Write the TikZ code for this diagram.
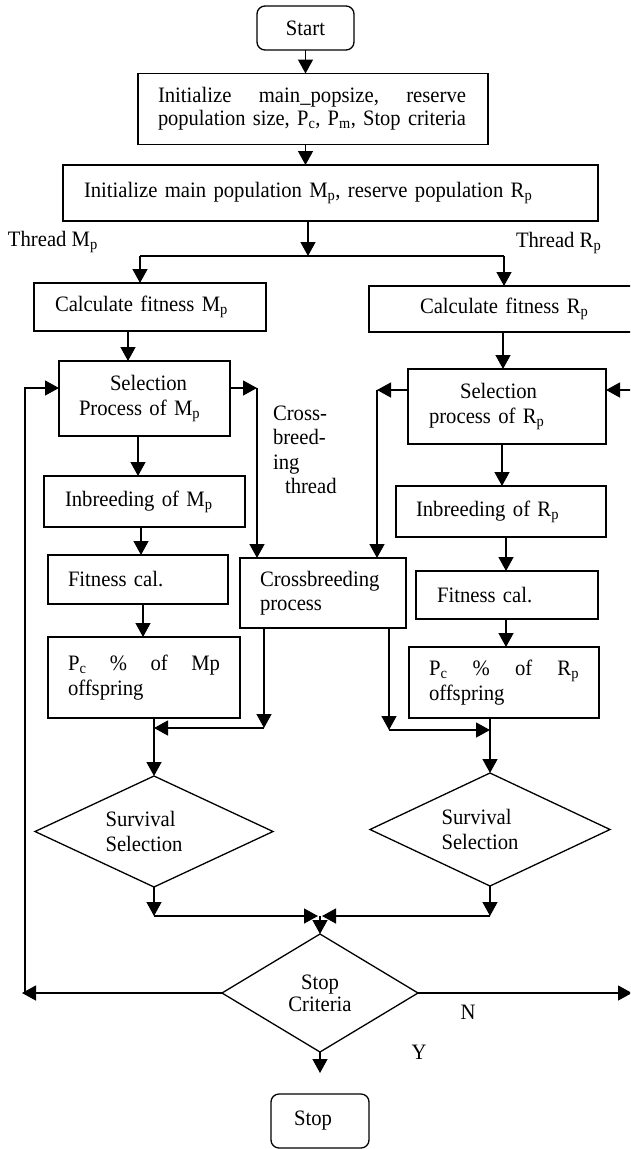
\documentclass[tikz,border=0pt]{standalone}
\usepackage{graphicx}
\usepackage{fontspec}
\setmainfont[FakeStretch=0.94]{Liberation Serif}
\usetikzlibrary{arrows.meta,shapes.geometric}
\newcommand{\subs}[1]{\textsubscript{#1}}
\begin{document}
\begin{tikzpicture}[x=1pt,y=-1pt,
  font=\fontsize{22}{24.5}\selectfont,
  every node/.style={outer sep=0pt},
  box/.style={draw, line width=1.3pt, rectangle, inner ysep=0pt, align=left},
  rbox/.style={box, rounded corners=8pt, align=center},
  diam/.style={draw, line width=1.3pt, diamond, inner sep=0pt},
  arr/.style={line width=1.3pt, -{Triangle[width=15pt,length=14pt]}},
  ln/.style={line width=1.3pt},
  lbl/.style={inner sep=0pt, align=left}
]
\useasboundingbox (0,0) rectangle (630,1149);
\fill[white] (0,0) rectangle (630,1149);
\clip (0,0) rectangle (630,1149);

% ---- process boxes ----
\node[rbox, minimum width=97pt, minimum height=44pt] (start) at (305.5,28) {Start};
\node[box, minimum height=71pt, text width=310pt, inner xsep=20pt,
  font=\fontsize{22}{23}\selectfont] (init1) at (313,109)
  {\hbox to 308pt{Initialize\hfill main\_popsize,\hfill reserve}\\
   \resizebox{308pt}{\height}{population size, P\subs{c}, P\subs{m}, Stop criteria}};
\node[box, minimum height=56pt, text width=493pt, inner xsep=21pt] (init2) at (330.5,193)
  {Initialize main population M\subs{p}, reserve population R\subs{p}};

\node[box, minimum height=48pt, text width=190pt, inner xsep=21pt] (calcM) at (150,307) {Calculate fitness M\subs{p}};
\node[box, minimum height=46pt, text width=229pt, inner xsep=51pt] (calcR) at (534.5,309) {Calculate fitness R\subs{p}};

\node[box, minimum height=75pt, text width=131pt, inner xsep=20pt] (selM) at (144.5,398.5)
  {\hspace*{31pt}Selection\\Process of M\subs{p}};
\node[box, minimum height=75pt, text width=156pt, inner xsep=21pt] (selR) at (507,406.5)
  {\hspace*{31pt}Selection\\process of R\subs{p}};

\node[box, minimum height=51pt, text width=159pt, inner xsep=21pt] (inbM) at (144.5,501.5) {Inbreeding of M\subs{p}};
\node[box, minimum height=51pt, text width=170pt, inner xsep=20pt] (inbR) at (501,511.5) {Inbreeding of R\subs{p}};

\node[box, minimum height=49pt, text width=140pt, inner xsep=20pt] (fitM) at (138,579.5) {Fitness cal.};
\node[box, minimum height=70pt, text width=126pt, inner xsep=20pt] (cross) at (323,593) {Crossbreeding\\process};
\node[box, minimum height=48pt, text width=140pt, inner xsep=21pt] (fitR) at (507,595) {Fitness cal.};

\node[box, minimum height=81pt, text width=152pt, inner xsep=20pt] (pcM) at (144,677.5)
  {\hbox to 152pt{P\subs{c}\hfill\%\hfill of\hfill Mp}\\offspring};
\node[box, minimum height=71pt, text width=150pt, inner xsep=20pt] (pcR) at (504,682.5)
  {\hbox to 150pt{P\subs{c}\hfill\%\hfill of\hfill R\subs{p}}\\offspring};

% ---- decisions ----
\node[diam, minimum width=238pt, minimum height=111pt,
  label={[lbl, xshift=-10pt]center:{Survival\\Selection}}] (survM) at (154,831.5) {};
\node[diam, minimum width=240pt, minimum height=113pt,
  label={[lbl, xshift=-10pt]center:{Survival\\Selection}}] (survR) at (490,829.5) {};
\node[diam, minimum width=196pt, minimum height=118pt,
  label={[lbl, align=center, font=\fontsize{22}{22}\selectfont]center:{Stop\\Criteria}}] (stopC) at (320,993) {};

\node[rbox, minimum width=98pt, minimum height=54pt,
  label={[lbl, xshift=-7pt]center:Stop}] (stop) at (320,1121) {};

% ---- free labels ----
\node[lbl, anchor=west] (thM) at (8,242) {Thread M\subs{p}};
\node[lbl, anchor=west] (thR) at (516,243) {Thread R\subs{p}};
\node[lbl, anchor=west] (xlbl) at (273,450) {Cross-\\breed-\\ing\\\hspace*{12pt}thread};
\node[lbl] (nlbl) at (468,1012) {N};
\node[lbl] (ylbl) at (419,1052) {Y};

% ---- junction points ----
\coordinate (split)  at (308,256);
\coordinate (splitL) at (140,256);
\coordinate (splitR) at (504,256);
\coordinate (xM) at (257,388);
\coordinate (xR) at (377,390);
\coordinate (oM) at (264,728);
\coordinate (oR) at (389,730);
\coordinate (join) at (320,916);
\coordinate (loopL) at (25,993);
\coordinate (tipL) at (22,993);
\coordinate (tipRt) at (632,993);
\coordinate (yend) at (320,1073);

% ---- initialisation ----
\draw[arr] (start.south) -- (start.south |- init1.north);
\draw[arr] (start.south |- init1.south) -- (start.south |- init2.north);
\draw[arr] (split |- init2.south) -- (split);
\draw[ln] (splitL) -- (splitR);
\draw[arr] (splitL) -- (splitL |- calcM.north);
\draw[arr] (splitR) -- (splitR |- calcR.north);

% ---- thread M ----
\draw[arr] (128,0 |- calcM.south) -- (128,0 |- selM.north);
\draw[arr] (138,0 |- selM.south) -- (138,0 |- inbM.north);
\draw[arr] (141,0 |- inbM.south) -- (141,0 |- fitM.north);
\draw[arr] (143,0 |- fitM.south) -- (143,0 |- pcM.north);
\draw[arr] (survM.north |- pcM.south) -- (survM.north);

% ---- thread R ----
\draw[arr] (503,0 |- calcR.south) -- (503,0 |- selR.north);
\draw[arr] (502,0 |- selR.south) -- (502,0 |- inbR.north);
\draw[arr] (506,0 |- inbR.south) -- (506,0 |- fitR.north);
\draw[arr] (506,0 |- fitR.south) -- (506,0 |- pcR.north);
\draw[arr] (survR.north |- pcR.south) -- (survR.north);

% ---- crossbreeding thread ----
\draw[arr] (selM.east |- xM) -- (xM);
\draw[arr] (xM) -- (xM |- cross.north);
\draw[arr] (selR.west |- xR) -- (xR);
\draw[arr] (xR) -- (xR |- cross.north);
\draw[arr] (oM |- cross.south) -- (oM);
\draw[arr] (oM) -- (survM.north |- oM);
\draw[arr] (oR |- cross.south) -- (oR);
\draw[arr] (oR) -- (survR.north |- oR);

% ---- merge and stop test ----
\draw[arr] (survM.south) -- (survM.south |- join);
\draw[arr] (survR.south) -- (survR.south |- join);
\draw[arr] (survM.south |- join) -- ([xshift=-2pt]join);
\draw[arr] (survR.south |- join) -- ([xshift=2pt]join);
\draw[arr] (join) -- (stopC.north);

% ---- loops back ----
\draw[arr] (stopC.west) -- (tipL);
\draw[arr] (loopL) -- (loopL |- xM) -- (selM.west |- xM);
\draw[arr] (stopC.east) -- (tipRt);
\draw[arr] (tipRt |- xR) -- (selR.east |- xR);

% ---- exit ----
\draw[arr] (stopC.south) -- (yend);
\end{tikzpicture}
\end{document}
